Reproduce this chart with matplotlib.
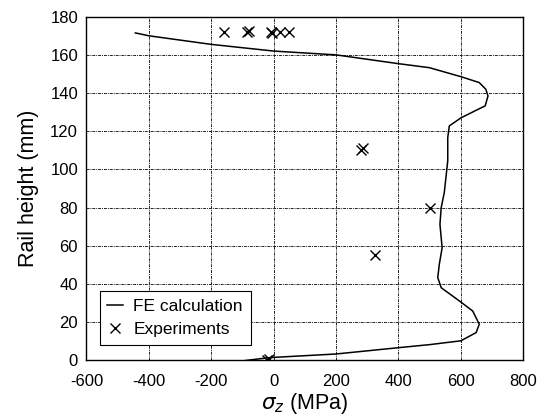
import matplotlib
matplotlib.use("Agg")
import matplotlib.pyplot as plt

plt.rcParams['font.family'] = ['Liberation Sans', 'DejaVu Sans']
plt.rcParams['mathtext.fontset'] = 'dejavusans'
plt.rcParams['axes.unicode_minus'] = False

# FE calculation curve (stress MPa, height mm)
fe_stress = [-90, -13, 200, 400, 500, 600, 649, 659, 638, 595, 537, 526, 531, 540,
             533, 537, 547, 558, 558, 563, 600, 659, 678, 687, 680, 659, 600, 499,
             400, 200, 0, -200, -400, -443]
fe_height = [0, 1.5, 3.4, 6.7, 8.3, 10.3, 14.6, 19, 25.9, 31.2, 38.1, 43.4, 50.4, 59,
             71.3, 80, 88, 104.5, 116.7, 122.8, 127, 131.8, 133.3, 138.5, 142, 145.5,
             148.6, 153.3, 155.4, 160, 162, 165.5, 170, 171.5]

# Experiments
exp_stress = [-160, -85, -80, -10, -5, 20, 50, 280, 285, 500, 325, -20, -15]
exp_height = [172, 172, 172.5, 172, 171.5, 172, 172, 110, 111, 80, 55, 0.5, 1]

fig = plt.figure(figsize=(5.4, 4.18), dpi=100)
ax = fig.add_axes([0.160, 0.1376, 0.809, 0.8225])

ax.plot(fe_stress, fe_height, color='black', lw=1.1, label='FE calculation')
ax.plot(exp_stress, exp_height, linestyle='none', marker='x', color='black',
        markersize=7, markeredgewidth=1.0, label='Experiments')

ax.set_xlim(-600, 800)
ax.set_ylim(0, 180)
ax.set_xticks(range(-600, 801, 200))
ax.set_yticks(range(0, 181, 20))
ax.grid(True, color='#222222', linestyle=(0, (3, 1, 1, 1)), linewidth=0.7)
ax.tick_params(direction='in', length=0, labelsize=12)
ax.tick_params(axis='x', pad=10)
ax.tick_params(axis='y', pad=6)
for s in ax.spines.values():
    s.set_linewidth(1.0)

ax.set_xlabel(r'$\sigma_z$ (MPa)', fontsize=15.5, labelpad=1)
ax.set_ylabel('Rail height (mm)', fontsize=15.5, labelpad=8)

leg = ax.legend(loc='lower left', fontsize=12.5, frameon=True, fancybox=False,
                edgecolor='black', framealpha=1, handlelength=0.9,
                handletextpad=0.6, borderpad=0.45, labelspacing=0.45,
                borderaxespad=0, bbox_to_anchor=(0.03, 0.045))
leg.get_frame().set_linewidth(0.8)

fig.savefig('out.png', dpi=100)
